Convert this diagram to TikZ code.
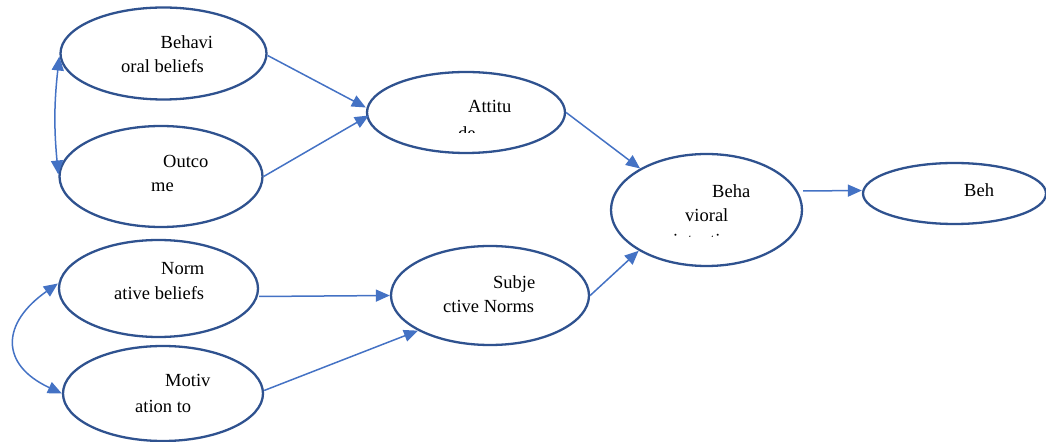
\documentclass[tikz,border=0pt]{standalone}
\usepackage{fontspec}
\setmainfont{Liberation Serif}
\usepackage{tikz}
\usetikzlibrary{arrows.meta,shapes}
\definecolor{ellcol}{HTML}{2F528F}
\definecolor{arrcol}{HTML}{4472C4}
\tikzset{
  elli/.style={draw=ellcol,line width=2.3bp,ellipse,inner sep=0pt},
  txt/.style={anchor=base west,inner sep=0pt,font=\fontsize{18.5bp}{22bp}\selectfont},
  conn/.style={draw=arrcol,line width=1.5bp,-{Triangle[length=14bp,width=12bp]}},
  bothconn/.style={draw=arrcol,line width=1.5bp,{Triangle[length=14bp,width=12bp]}-{Triangle[length=14bp,width=12bp]}}
}

\begin{document}
\begin{tikzpicture}[scale=1]
\useasboundingbox (0bp,0bp) rectangle (1046bp,442bp);
\node (BB) at (163.5bp,388.5bp) [elli,minimum width=206bp,minimum height=92bp] {};
\node (OC) at (161bp,265.5bp) [elli,minimum width=203bp,minimum height=101bp] {};
\node (AT) at (466bp,329.5bp) [elli,minimum width=198bp,minimum height=81bp] {};
\node (NB) at (158.5bp,153.5bp) [elli,minimum width=199bp,minimum height=97bp] {};
\node (MO) at (163bp,48.5bp) [elli,minimum width=200bp,minimum height=95bp] {};
\node (SN) at (490bp,146.5bp) [elli,minimum width=198bp,minimum height=99bp] {};
\node (BI) at (706.5bp,232bp) [elli,minimum width=191bp,minimum height=112bp] {};
\node (BE) at (954.5bp,248.5bp) [elli,minimum width=183bp,minimum height=61bp] {};
% texts
\node (BBa) at (160.5bp,393bp) [txt] {Behavi};
\node (BBb) at (121bp,369bp) [txt] {oral beliefs};
\node (OCa) at (163bp,274bp) [txt] {Outco};
\node (OCb) at (151bp,250bp) [txt] {me};
\node (ATa) at (468bp,329bp) [txt] {Attitu};
\begin{scope}
\clip (400bp,309bp) rectangle (540bp,340bp);
\node (ATb) at (458bp,302.5bp) [txt] {de};
\end{scope}
\node (BIa) at (712bp,244bp) [txt] {Beha};
\node (BIb) at (685bp,220bp) [txt] {vioral};
\begin{scope}
\clip (640bp,205.5bp) rectangle (780bp,215bp);
\node (BIc) at (673bp,195bp) [txt] {intention};
\end{scope}
\node (BEa) at (964bp,245bp) [txt] {Beh};
\node (NBa) at (161bp,167bp) [txt] {Norm};
\node (NBb) at (114bp,142bp) [txt] {ative beliefs};
\node (MOa) at (165bp,55bp) [txt] {Motiv};
\node (MOb) at (135bp,30bp) [txt] {ation to};
\node (SNa) at (493bp,153bp) [txt] {Subje};
\node (SNb) at (443bp,129bp) [txt] {ctive Norms};
% connectors
\draw [bothconn] ([yshift=-3bp]BB.west) to[bend right=6] ([yshift=2bp]OC.west);
\draw [bothconn] ([yshift=5bp]NB.west) to[out=215,in=155,looseness=1.6] (MO.west);
\draw [conn] ([yshift=-2bp]BB.east) -- ([yshift=5bp]AT.west);
\draw [conn] (OC.east) -- ([xshift=3bp,yshift=-3bp]AT.west);
\draw [conn] ([yshift=-8bp]NB.east) -- (SN.west);
\draw [conn] ([yshift=3bp]MO.east) -- (SN.206);
\draw [conn] (AT.east) -- (BI.148);
\draw [conn] (SN.east) -- (BI.211);
\draw [conn] ([yshift=19bp]BI.east) -- ([yshift=3bp]BE.west);
\end{tikzpicture}
\end{document}
